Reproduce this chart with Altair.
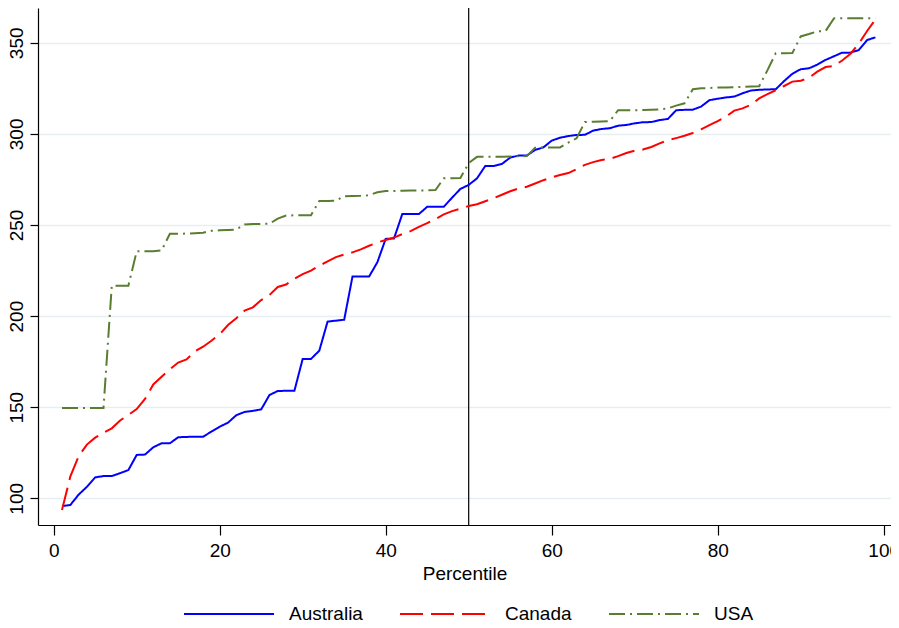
import altair as alt
import pandas as pd

percentiles = list(range(1, 100))

australia = [95.8, 96.3, 102, 106.3, 111.5, 112.2, 112.2, 113.8, 115.5, 123.8,
             124, 128, 130.2, 130.2, 133.5, 133.7, 133.8, 133.8, 136.6, 139.3,
             141.5, 145.6, 147.4, 148, 148.8, 156.7, 158.9, 159, 159, 176.5,
             176.5, 181, 197, 197.5, 198, 221.7, 221.7, 221.7, 229.6, 242.4,
             242.6, 256, 256, 256, 260, 260, 260, 265, 269.8, 272,
             275.6, 282.4, 282.4, 283.5, 287, 288.1, 288.1, 291.2, 292.6, 296.3,
             297.9, 298.8, 299.4, 299.5, 301.8, 302.7, 303.1, 304.5, 304.9, 305.8,
             306.4, 306.5, 307.6, 308.2, 313, 313.2, 313.3, 315, 318.5, 319.3,
             320, 320.5, 322.3, 323.8, 324.2, 324.4, 324.5, 329, 333, 335.5,
             336, 338, 340.6, 342.6, 344.6, 344.6, 346, 351.5, 353]

canada = [93.6, 111.9, 123, 129.5, 133.3, 136, 138.4, 142.7, 145.8, 149,
          154.5, 162.5, 166.7, 170.8, 174.5, 176.2, 180.6, 183.2, 186.5, 190,
          195.1, 198.8, 203, 204.8, 208.8, 211.6, 216, 217.3, 220.5, 223,
          225, 227.7, 230, 232.4, 233.8, 235, 236.6, 238.6, 240.4, 241.8,
          243.1, 245, 246.6, 249, 251, 253.3, 255.8, 257.6, 259, 260.4,
          261.4, 263, 264.7, 266.6, 268.5, 270, 271, 272.8, 274.6, 276.1,
          277.4, 278.5, 280.7, 283, 284.5, 285.7, 286.3, 287.8, 289.5, 290.8,
          291.4, 292.8, 294.8, 296.5, 297.7, 299, 300.5, 302.5, 304.8, 307,
          309.5, 312.8, 314, 316, 319.5, 321.8, 324, 326.3, 328.7, 329.2,
          330.8, 334.2, 336.7, 337.3, 340.3, 344, 349.5, 356.5, 362.8]

usa = [149.5, 149.5, 149.5, 149.5, 149.5, 149.5, 216.7, 216.7, 216.7, 235.6,
       235.6, 235.6, 236, 245.2, 245.2, 245.3, 245.5, 245.8, 246.8, 247.1,
       247.3, 247.5, 250.3, 250.5, 250.6, 250.7, 253.5, 255.2, 255.3, 255.3,
       255.4, 263.2, 263.2, 263.4, 265.8, 265.9, 266, 266.3, 268, 268.6,
       268.7, 268.8, 268.9, 269, 269, 269.2, 275.6, 275.7, 275.8, 284,
       287.4, 287.4, 287.5, 287.5, 287.6, 287.7, 287.8, 292.4, 292.5, 292.5,
       292.6, 295.2, 297.6, 306.5, 306.7, 306.8, 307, 313, 313, 313,
       313.1, 313.2, 313.4, 314, 315.5, 316.8, 324.5, 325, 325.2, 325.4,
       325.5, 325.6, 325.8, 326, 326.2, 335, 344.3, 344.3, 344.4, 353.5,
       354.8, 356.3, 356.5, 363.4, 363.5, 363.5, 363.5, 363.5, 363.5]

countries = ["Australia", "Canada", "USA"]
colors = ["#0000ff", "#ff0000", "#5a7d30"]
dashes = [[1, 0], [23, 8], [16, 5, 2, 5]]
median_line = [50]
x_ticks = [0, 20, 40, 60, 80, 100]
y_ticks = [100, 150, 200, 250, 300, 350]

rows = []
for name, vals in zip(countries, [australia, canada, usa]):
    for p, v in zip(percentiles, vals):
        rows.append({"Percentile": p, "Score": v, "Country": name})
df = pd.DataFrame(rows)

FONT = "Liberation Sans"

x_enc = alt.X("Percentile:Q",
              scale=alt.Scale(domain=[-1.89, 100.88], nice=False, zero=False),
              axis=alt.Axis(values=x_ticks, grid=False, title="Percentile",
                            tickSize=10, labelPadding=6, titlePadding=4,
                            labelFlush=False))
y_enc = alt.Y("Score:Q",
              scale=alt.Scale(domain=[85.35, 369.1], nice=False, zero=False),
              axis=alt.Axis(values=y_ticks, grid=True, title=None,
                            tickSize=8, labelAngle=270, labelAlign="center",
                            labelBaseline="alphabetic", labelPadding=8,
                            labelFlush=False))

lines = alt.Chart(df).mark_line(strokeWidth=2, clip=True).encode(
    x=x_enc,
    y=y_enc,
    color=alt.Color("Country:N",
                    scale=alt.Scale(domain=countries, range=colors),
                    legend=alt.Legend(title=None, orient="none", direction="horizontal",
                                      legendX=145, legendY=596,
                                      symbolType="stroke", symbolSize=8100,
                                      symbolStrokeWidth=2, clipHeight=20,
                                      labelFontSize=19, labelFont=FONT,
                                      labelColor="black", labelOffset=14,
                                      columnPadding=36, padding=0)),
    strokeDash=alt.StrokeDash("Country:N",
                              scale=alt.Scale(domain=countries, range=dashes),
                              legend=None),
)

rule = alt.Chart(pd.DataFrame({"x": median_line})).mark_rule(
    color="black", strokeWidth=1.2).encode(x="x:Q")

chart = alt.layer(rule, lines).properties(
    width=853, height=517,
    autosize=alt.AutoSizeParams(type="none"),
    padding={"left": 30, "top": 0, "right": 0, "bottom": 100},
).configure_view(stroke=None).configure_axis(
    labelFont=FONT, titleFont=FONT, labelFontSize=19, titleFontSize=19,
    titleFontWeight="normal", labelColor="black", titleColor="black",
    domainColor="black", tickColor="black", domainWidth=1.2, tickWidth=1.2,
    gridColor="#e6eef2", gridWidth=1.6,
)

chart.save("out.html", embed_options={"renderer": "svg", "actions": False})
